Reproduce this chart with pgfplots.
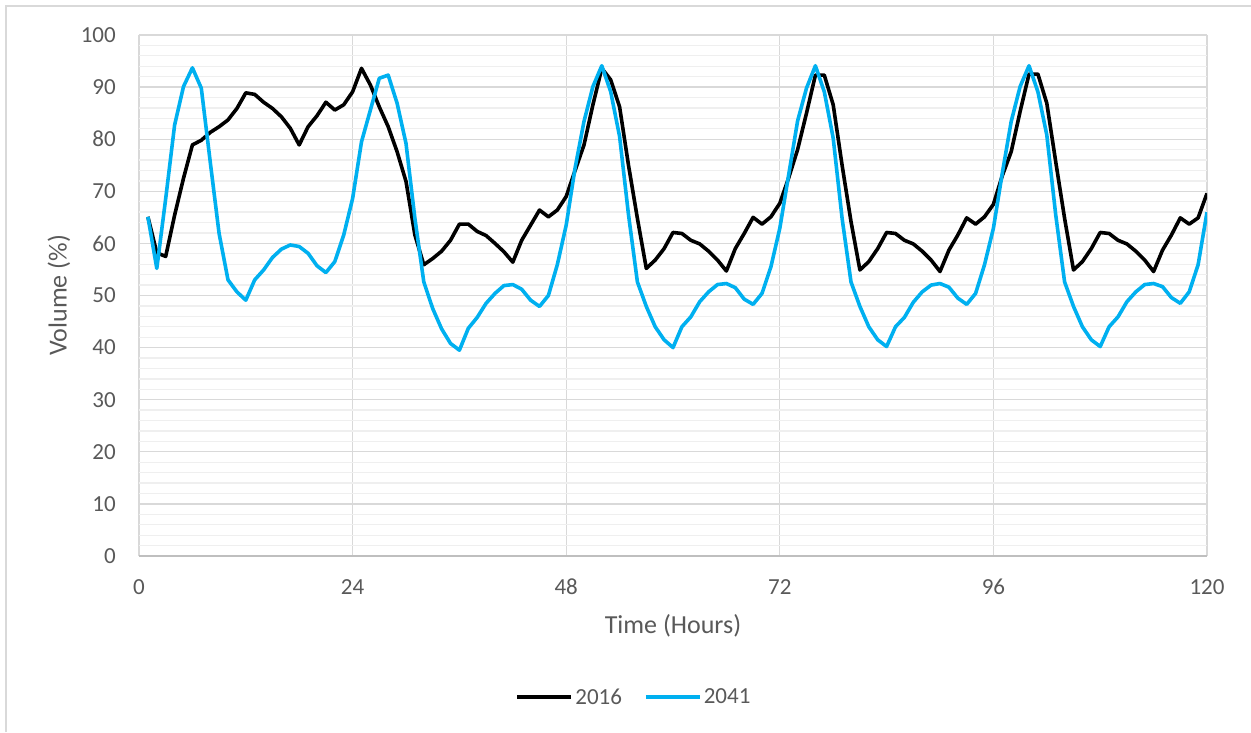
\documentclass[border=0pt]{standalone}
\usepackage{pgfplots}
\pgfplotsset{compat=1.18}
\usepackage{fontspec}
\setmainfont{Carlito}
\definecolor{txt}{HTML}{595959}
\definecolor{grmaj}{HTML}{D9D9D9}
\definecolor{grmin}{HTML}{EFEFEF}
\definecolor{blu}{HTML}{00B0F0}
\definecolor{axl}{HTML}{BFBFBF}

\pgfplotstableread{
h v
1 65.1
2 58.2
3 57.5
4 65.4
5 72.5
6 78.9
7 79.8
8 81.3
9 82.4
10 83.7
11 85.9
12 88.9
13 88.6
14 87.1
15 85.9
16 84.3
17 82.1
18 78.9
19 82.4
20 84.5
21 87.1
22 85.6
23 86.6
24 89.1
25 93.6
26 90.4
27 86.2
28 82.4
29 77.6
30 71.9
31 61.6
32 55.9
33 57.1
34 58.5
35 60.6
36 63.7
37 63.7
38 62.3
39 61.5
40 60.0
41 58.4
42 56.4
43 60.6
44 63.5
45 66.4
46 65.1
47 66.4
48 69.0
49 74.0
50 78.9
51 86.6
52 93.6
53 91.4
54 86.2
55 75.0
56 64.8
57 55.2
58 56.8
59 59.0
60 62.1
61 61.9
62 60.6
63 59.9
64 58.5
65 56.8
66 54.7
67 59.0
68 61.9
69 65.0
70 63.7
71 65.1
72 67.7
73 72.6
74 78.0
75 85.0
76 92.3
77 92.3
78 86.6
79 75.0
80 64.2
81 54.9
82 56.5
83 59.0
84 62.1
85 61.9
86 60.6
87 59.9
88 58.5
89 56.8
90 54.6
91 58.7
92 61.6
93 64.9
94 63.7
95 65.1
96 67.5
97 73.0
98 77.6
99 85.3
100 92.5
101 92.5
102 86.9
103 75.7
104 64.8
105 54.9
106 56.5
107 59.0
108 62.1
109 61.9
110 60.6
111 59.9
112 58.5
113 56.8
114 54.6
115 58.7
116 61.6
117 64.9
118 63.7
119 64.9
120 69.6
}\tabA

\pgfplotstableread{
h v
1 65.1
2 55.2
3 68.6
4 82.7
5 90.1
6 93.7
7 89.8
8 75.7
9 61.9
10 53.0
11 50.7
12 49.1
13 53.0
14 54.9
15 57.3
16 58.9
17 59.7
18 59.4
19 58.1
20 55.7
21 54.4
22 56.5
23 61.6
24 68.6
25 79.5
26 85.6
27 91.7
28 92.3
29 86.9
30 79.2
31 64.8
32 52.6
33 47.5
34 43.6
35 40.8
36 39.5
37 43.7
38 45.8
39 48.5
40 50.4
41 51.9
42 52.1
43 51.2
44 49.1
45 47.9
46 50.0
47 55.9
48 63.5
49 74.5
50 83.4
51 90.1
52 94.1
53 89.1
54 80.5
55 65.5
56 52.6
57 47.9
58 44.0
59 41.5
60 40.0
61 44.0
62 45.9
63 48.8
64 50.7
65 52.1
66 52.3
67 51.5
68 49.3
69 48.3
70 50.4
71 55.5
72 62.9
73 73.2
74 83.5
75 89.8
76 94.1
77 89.1
78 80.2
79 64.8
80 52.6
81 47.9
82 44.0
83 41.5
84 40.2
85 44.0
86 45.8
87 48.7
88 50.7
89 52.0
90 52.3
91 51.6
92 49.5
93 48.3
94 50.4
95 55.9
96 62.9
97 73.5
98 83.4
99 90.1
100 94.1
101 89.1
102 80.8
103 65.5
104 52.6
105 47.9
106 44.0
107 41.5
108 40.2
109 44.0
110 45.9
111 48.8
112 50.7
113 52.1
114 52.3
115 51.7
116 49.6
117 48.5
118 50.7
119 55.9
120 66.0
}\tabB

\begin{document}
\begin{tikzpicture}[x=1pt,y=1pt]
\useasboundingbox (0,0) rectangle (1251,732);
\draw[grmaj, line width=1.5pt] (6,0) -- (6,726) -- (1251,726);
\begin{axis}[
  at={(139pt,176pt)}, anchor=south west,
  width=1068pt, height=521pt, scale only axis,
  xmin=0, xmax=120, ymin=0, ymax=100,
  xtick={0,24,...,120}, ytick={0,10,...,100},
  minor y tick num=4,
  xmajorgrids, ymajorgrids, yminorgrids,
  major grid style={grmaj, line width=1.3pt},
  minor grid style={grmin, line width=1.3pt},
  axis line style={draw=none},
  major tick length=0pt, minor tick length=0pt,
  /pgf/number format/assume math mode=true,
  tick label style={font=\fontsize{23}{27}\selectfont, text=txt},
  xticklabel style={inner sep=0pt, yshift=-23pt},
  yticklabel style={inner sep=0pt, xshift=-23pt},
  xlabel={Time (Hours)}, ylabel={Volume (\%)},
  label style={font=\fontsize{26}{31}\selectfont, text=txt},
  xlabel style={at={(axis description cs:0.5,-0.1497)}, anchor=base},
  ylabel style={at={(axis description cs:-0.0677,0.5)}, anchor=base},
  legend columns=2,
  legend style={at={(axis description cs:0.4635,-0.2706)}, anchor=center,
    draw=none, fill=none, font=\fontsize{23}{27}\selectfont, text=txt,
    nodes={inner sep=2pt},
    /tikz/every even column/.append style={column sep=20pt}},
  legend image code/.code={\draw[#1, line width=3.8pt] (0pt,0pt) -- (54pt,0pt);},
]
\addplot[black, line width=3.6pt, line join=round] table[x=h, y=v] {\tabA};
\addplot[blu, line width=3.6pt, line join=round] table[x=h, y=v] {\tabB};
\legend{2016, 2041}
\draw[axl, line width=1.5pt] (axis cs:0,0) -- (axis cs:120,0);
\end{axis}
\end{tikzpicture}
\end{document}
